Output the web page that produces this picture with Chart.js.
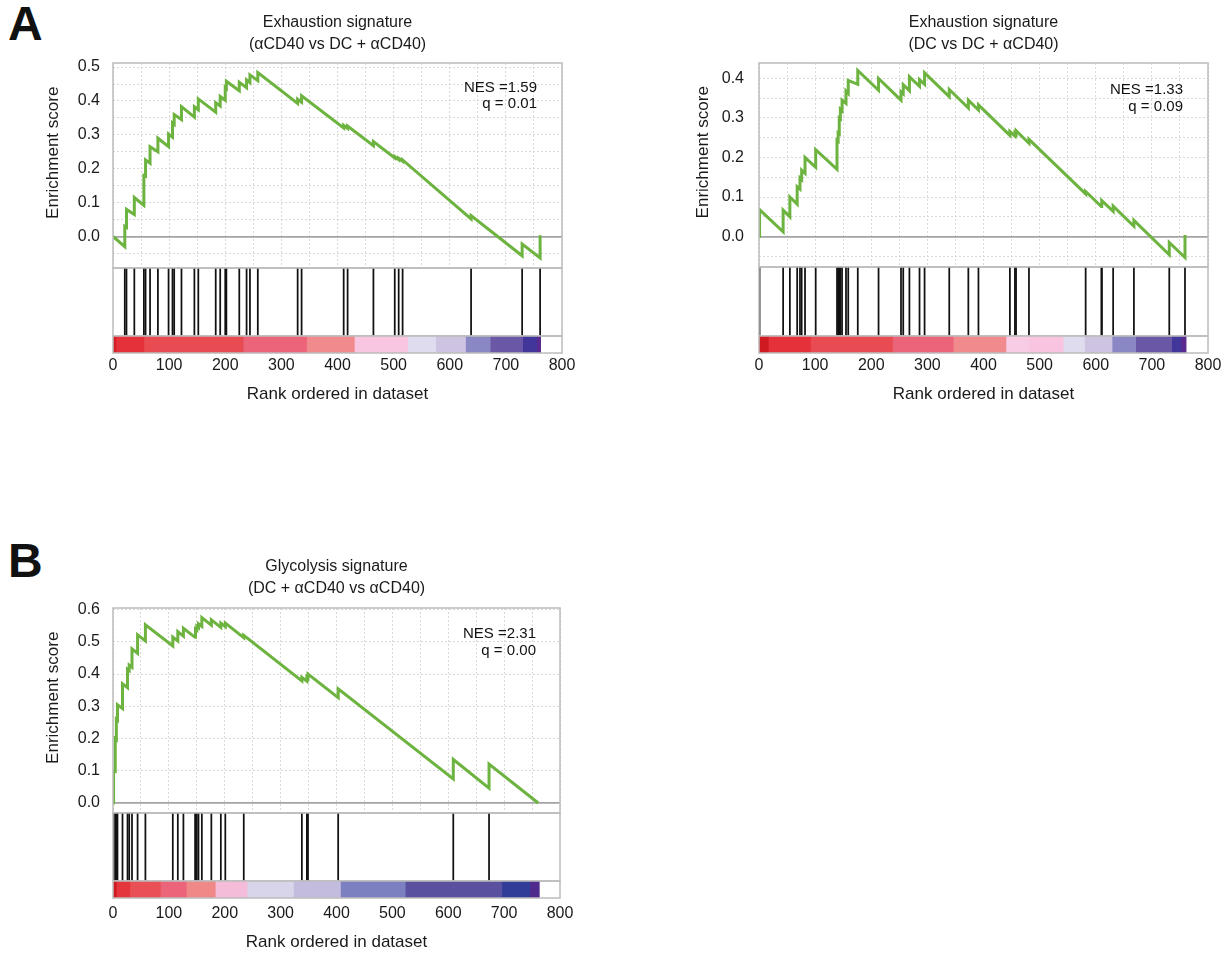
<!DOCTYPE html>
<html>
<head>
<meta charset="utf-8">
<script src="https://cdn.jsdelivr.net/npm/chart.js@4"></script>
<style>
html, body { margin: 0; padding: 0; background: #fff; width: 1231px; height: 953px; overflow: hidden; }
canvas { position: absolute; }
.lbl { position: absolute; font-family: "Liberation Sans", Arial, Helvetica, sans-serif; color: #111; white-space: nowrap; }
.panel { font-weight: bold; font-size: 48px; line-height: 48px; }
.nes { font-size: 15px; text-align: right; width: 160px; }
</style>
</head>
<body>
<div class="lbl panel" style="left:8px;top:0px;">A</div>
<div class="lbl panel" style="left:8px;top:537px;">B</div>
<script>
// ===================== DATA =====================
const rankTicks = [0, 100, 200, 300, 400, 500, 600, 700, 800];

const titleAL = ['Exhaustion signature', '(αCD40 vs DC + αCD40)'];
const titleAR = ['Exhaustion signature', '(DC vs DC + αCD40)'];
const titleB  = ['Glycolysis signature', '(DC + αCD40 vs αCD40)'];

const nesAL = ['NES =1.59', 'q = 0.01'];
const nesAR = ['NES =1.33', 'q = 0.09'];
const nesB  = ['NES =2.31', 'q = 0.00'];

// gene-set hit ranks
const hitsAL = [21, 24, 38, 55, 58, 66, 80, 99, 106, 109, 122, 145, 152, 183, 191, 200, 202, 225, 238, 244, 258, 329, 336, 411, 418, 464, 502, 509, 516, 638, 729, 761];
const hitsAR = [1, 43, 55, 68, 73, 76, 82, 101, 139, 141, 143, 145, 148, 155, 159, 176, 213, 253, 257, 268, 286, 295, 339, 373, 391, 447, 456, 458, 481, 582, 610, 611, 631, 668, 731, 759];
const hitsB  = [1, 4, 6, 8, 17, 26, 29, 34, 44, 58, 107, 116, 126, 147, 148, 150, 153, 159, 176, 193, 201, 234, 338, 347, 349, 403, 609, 673];

// running enrichment score: [rank, ES]
const curveAL = [
  [0, 0.0], [21, -0.030], [21, 0.030], [24, 0.027], [24, 0.080], [38, 0.065], [38, 0.115],
  [55, 0.092], [55, 0.180], [58, 0.178], [58, 0.226], [66, 0.216], [66, 0.265], [80, 0.250], [80, 0.290],
  [99, 0.265], [99, 0.302], [106, 0.293], [106, 0.335], [109, 0.331], [109, 0.360], [122, 0.345], [122, 0.383],
  [145, 0.352], [145, 0.383], [152, 0.374], [152, 0.406], [183, 0.367], [183, 0.395], [191, 0.385], [191, 0.413],
  [200, 0.402], [200, 0.440], [202, 0.437], [202, 0.458], [225, 0.430], [225, 0.455], [238, 0.439], [238, 0.462],
  [244, 0.454], [244, 0.477], [258, 0.460], [258, 0.484], [329, 0.393], [329, 0.405], [336, 0.396], [336, 0.415],
  [411, 0.320], [411, 0.328], [418, 0.319], [418, 0.326], [464, 0.268], [464, 0.280], [502, 0.232], [502, 0.236],
  [509, 0.227], [509, 0.231], [516, 0.222], [516, 0.226], [638, 0.052], [638, 0.062], [729, -0.057], [729, -0.022],
  [761, -0.063], [761, 0.004]
];
const curveAR = [
  [0, 0.0], [1, 0.0], [1, 0.068], [43, 0.012], [43, 0.067], [55, 0.050], [55, 0.100], [68, 0.082], [68, 0.126],
  [73, 0.120], [73, 0.148], [76, 0.144], [76, 0.168], [82, 0.160], [82, 0.200], [101, 0.175], [101, 0.220],
  [139, 0.170], [139, 0.243], [141, 0.241], [141, 0.262], [143, 0.260], [143, 0.300], [145, 0.298], [145, 0.322],
  [148, 0.318], [148, 0.345], [155, 0.337], [155, 0.368], [159, 0.362], [159, 0.395], [176, 0.385], [176, 0.420],
  [213, 0.370], [213, 0.400], [253, 0.345], [253, 0.366], [257, 0.361], [257, 0.384], [268, 0.369], [268, 0.404],
  [286, 0.380], [286, 0.397], [295, 0.385], [295, 0.414], [339, 0.354], [339, 0.372], [373, 0.325], [373, 0.345],
  [391, 0.320], [391, 0.333], [447, 0.256], [447, 0.266], [456, 0.254], [456, 0.262], [458, 0.259], [458, 0.268],
  [481, 0.236], [481, 0.246], [582, 0.108], [582, 0.114], [610, 0.076], [610, 0.083], [611, 0.082], [611, 0.091],
  [631, 0.064], [631, 0.077], [668, 0.026], [668, 0.041], [731, -0.046], [731, -0.015], [759, -0.053], [759, 0.004]
];
const curveB = [
  [0, 0.0], [1, 0.0], [1, 0.100], [4, 0.098], [4, 0.200], [6, 0.197], [6, 0.260], [8, 0.257], [8, 0.305],
  [17, 0.293], [17, 0.370], [26, 0.358], [26, 0.415], [29, 0.411], [29, 0.428], [34, 0.421], [34, 0.478],
  [44, 0.464], [44, 0.522], [58, 0.503], [58, 0.553], [107, 0.487], [107, 0.515], [116, 0.503], [116, 0.532],
  [126, 0.518], [126, 0.542], [147, 0.514], [147, 0.528], [148, 0.527], [148, 0.540], [150, 0.537], [150, 0.548],
  [153, 0.544], [153, 0.556], [159, 0.548], [159, 0.575], [176, 0.552], [176, 0.568], [193, 0.545], [193, 0.558],
  [201, 0.547], [201, 0.558], [234, 0.513], [234, 0.520], [338, 0.379], [338, 0.390], [347, 0.378], [347, 0.390],
  [349, 0.387], [349, 0.400], [403, 0.327], [403, 0.354], [609, 0.075], [609, 0.135], [673, 0.046], [673, 0.121],
  [761, 0.0]
];

// ranked-metric colour bar: segment edges (ranks) and segment colours
const barEdgesAL = [0, 5, 55, 232, 345, 430, 525, 575, 628, 672, 730, 755, 762];
const barColorsAL = ['#d51d26', '#e4313a', '#e84c52', '#ec6479', '#f08a8c', '#f8c6e0', '#dedcee', '#cec4e2', '#8a88c4', '#6a58a6', '#42369a', '#5a2a8e'];
const barEdgesAR = [0, 17, 92, 238, 346, 440, 481, 542, 580, 629, 671, 735, 752, 761];
const barColorsAR = ['#d01a22', '#e4313a', '#e84c52', '#ec6479', '#f08a8c', '#f8cce4', '#f8c4e0', '#dedcee', '#cec4e2', '#8a88c4', '#6a58a6', '#42369a', '#5a2a8e'];
const barEdgesB = [0, 6, 30, 85, 131, 183, 240, 323, 407, 523, 696, 746, 763];
const barColorsB = ['#d01a22', '#e4343c', '#e85056', '#ec6479', '#f08888', '#f4bcd8', '#d8d4ea', '#c4bcde', '#7c80c0', '#5a50a0', '#303c98', '#502a8c'];

// ===================== LAYOUT =====================
const panels = [
  { title: titleAL, nes: nesAL, hits: hitsAL, curve: curveAL, edges: barEdgesAL, colors: barColorsAL,
    x0: 0, top: 0, plotL: 113, plotR: 562, plotT: 63, esB: 268, hitB: 336, barB: 353, titleTop: 12,
    yMin: -0.093, yMax: 0.512, yStep: 0.05, yTickPad: 13, yTitlePad: 43, xTickPad: 3, xAxisH: 52,
    nesRight: 537, nesTop: 79, nesLH: 16 },
  { title: titleAR, nes: nesAR, hits: hitsAR, curve: curveAR, edges: barEdgesAR, colors: barColorsAR,
    x0: 646, top: 0, plotL: 759, plotR: 1208, plotT: 63, esB: 267, hitB: 336, barB: 353, titleTop: 12,
    yMin: -0.077, yMax: 0.439, yStep: 0.05, yTickPad: 15, yTitlePad: 47, xTickPad: 3, xAxisH: 52,
    nesRight: 1183, nesTop: 80, nesLH: 17 },
  { title: titleB, nes: nesB, hits: hitsB, curve: curveB, edges: barEdgesB, colors: barColorsB,
    x0: 0, top: 540, plotL: 113, plotR: 560, plotT: 608, esB: 813, hitB: 881, barB: 898, titleTop: 16,
    yMin: -0.031, yMax: 0.605, yStep: 0.1, yTickPad: 13, yTitlePad: 43, xTickPad: 6, xAxisH: 55,
    nesRight: 536, nesTop: 624, nesLH: 17 }
];

const FONT = '"Liberation Sans", Arial, Helvetica, sans-serif';
Chart.defaults.font.family = FONT;
Chart.defaults.color = '#1a1a1a';

const framePlugin = {
  id: 'frame',
  afterDatasetsDraw(chart) {
    const a = chart.chartArea, c = chart.ctx;
    c.save();
    c.strokeStyle = '#bcbcbc';
    c.lineWidth = 1.5;
    c.strokeRect(a.left, a.top, a.right - a.left, a.bottom - a.top);
    c.restore();
  }
};

function makeCanvas(left, top, w, h) {
  const cv = document.createElement('canvas');
  cv.width = w; cv.height = h;
  cv.style.left = left + 'px'; cv.style.top = top + 'px';
  cv.style.width = w + 'px'; cv.style.height = h + 'px';
  document.body.appendChild(cv);
  return cv;
}

const baseOpts = {
  responsive: false, animation: false, devicePixelRatio: 1,
};

const isZero = c => c.tick && Math.abs(c.tick.value) < 1e-9;
const isTenth = v => Math.abs(v * 10 - Math.round(v * 10)) < 1e-6;

function build(p) {
  // ---- enrichment score panel ----
  const esCv = makeCanvas(p.x0, p.top, p.plotR - p.x0 + 10, p.esB - p.top + 2);
  new Chart(esCv, {
    type: 'line',
    data: { datasets: [{
      data: p.curve.map(([x, y]) => ({ x, y })),
      borderColor: '#6db33f', borderWidth: 3, pointRadius: 0, tension: 0, fill: false
    }] },
    options: Object.assign({}, baseOpts, {
      layout: { padding: { left: 0, right: 10, top: 0, bottom: 2 } },
      plugins: {
        legend: { display: false }, tooltip: { enabled: false },
        title: {
          display: true, text: p.title, fullSize: false, color: '#1a1a1a',
          font: { size: 16, lineHeight: 1.375, weight: 'normal' },
          padding: { top: p.titleTop, bottom: p.plotT - p.top - p.titleTop - 44 }
        }
      },
      scales: {
        x: {
          type: 'linear', min: 0, max: 800, offset: false,
          ticks: { display: false, stepSize: 50 },
          grid: { drawTicks: false, color: '#d9d9d9', lineWidth: 1 },
          border: { display: false, dash: [2, 2] }
        },
        y: {
          type: 'linear', min: p.yMin, max: p.yMax,
          ticks: {
            stepSize: p.yStep, includeBounds: false, autoSkip: false, padding: p.yTickPad,
            color: '#1a1a1a', font: { size: 16 },
            callback: v => isTenth(v) ? (Math.abs(v) < 1e-9 ? '0.0' : v.toFixed(1)) : ''
          },
          grid: {
            drawTicks: false,
            color: c => isZero(c) ? '#a3a3a3' : '#d9d9d9',
            lineWidth: c => isZero(c) ? 1.8 : 1
          },
          border: { display: false, dash: c => isZero(c) ? [] : [2, 2] },
          title: {
            display: true, text: '\u2002\u2002\u2002Enrichment score', color: '#1a1a1a',
            font: { size: 17 }, padding: { top: p.yTitlePad, bottom: 0 }
          },
          afterFit: s => { s.width = p.plotL - p.x0; s.paddingTop = 0; s.paddingBottom = 0; }
        }
      }
    }),
    plugins: [framePlugin]
  });

  // ---- hit (gene position) panel ----
  const hitCv = makeCanvas(p.plotL - 2, p.esB - 2, p.plotR - p.plotL + 4, p.hitB - p.esB + 4);
  new Chart(hitCv, {
    type: 'bar',
    data: { datasets: [{
      data: p.hits.map(r => ({ x: r, y: 1 })),
      backgroundColor: '#111', barThickness: 1.1, borderWidth: 0
    }] },
    options: Object.assign({}, baseOpts, {
      layout: { padding: 2 },
      plugins: { legend: { display: false }, tooltip: { enabled: false } },
      scales: {
        x: { type: 'linear', min: 0, max: 800, offset: false, display: false },
        y: { type: 'linear', min: 0, max: 1, display: false }
      }
    }),
    plugins: [framePlugin]
  });

  // ---- ranked metric colour bar + rank axis ----
  const barCv = makeCanvas(p.plotL - 20, p.hitB - 2, p.plotR - p.plotL + 40, 2 + (p.barB - p.hitB) + p.xAxisH);
  new Chart(barCv, {
    type: 'bar',
    data: {
      labels: ['metric'],
      datasets: p.colors.map((c, i) => ({
        data: [[p.edges[i], p.edges[i + 1]]],
        backgroundColor: c, borderWidth: 0, barPercentage: 1, categoryPercentage: 1, grouped: false
      }))
    },
    options: Object.assign({}, baseOpts, {
      indexAxis: 'y',
      layout: { padding: { left: 20, right: 20, top: 2, bottom: 0 } },
      plugins: { legend: { display: false }, tooltip: { enabled: false } },
      scales: {
        x: {
          type: 'linear', min: 0, max: 800, offset: false,
          grid: { display: false, drawTicks: false }, border: { display: false },
          ticks: { autoSkip: false, maxRotation: 0, padding: p.xTickPad, color: '#1a1a1a', font: { size: 16 } },
          afterBuildTicks: s => { s.ticks = rankTicks.map(v => ({ value: v })); },
          title: { display: true, text: 'Rank ordered in dataset', color: '#1a1a1a', font: { size: 17 }, padding: { top: 0, bottom: 0 } },
          afterFit: s => { s.height = p.xAxisH; s.paddingLeft = 0; s.paddingRight = 0; }
        },
        y: { display: false }
      }
    }),
    plugins: [framePlugin]
  });

  // ---- NES / q annotation ----
  const d = document.createElement('div');
  d.className = 'lbl nes';
  d.style.left = (p.nesRight - 160) + 'px';
  d.style.top = p.nesTop + 'px';
  d.style.lineHeight = p.nesLH + 'px';
  d.innerHTML = p.nes.join('<br>');
  document.body.appendChild(d);
}

panels.forEach(build);
</script>
</body>
</html>
